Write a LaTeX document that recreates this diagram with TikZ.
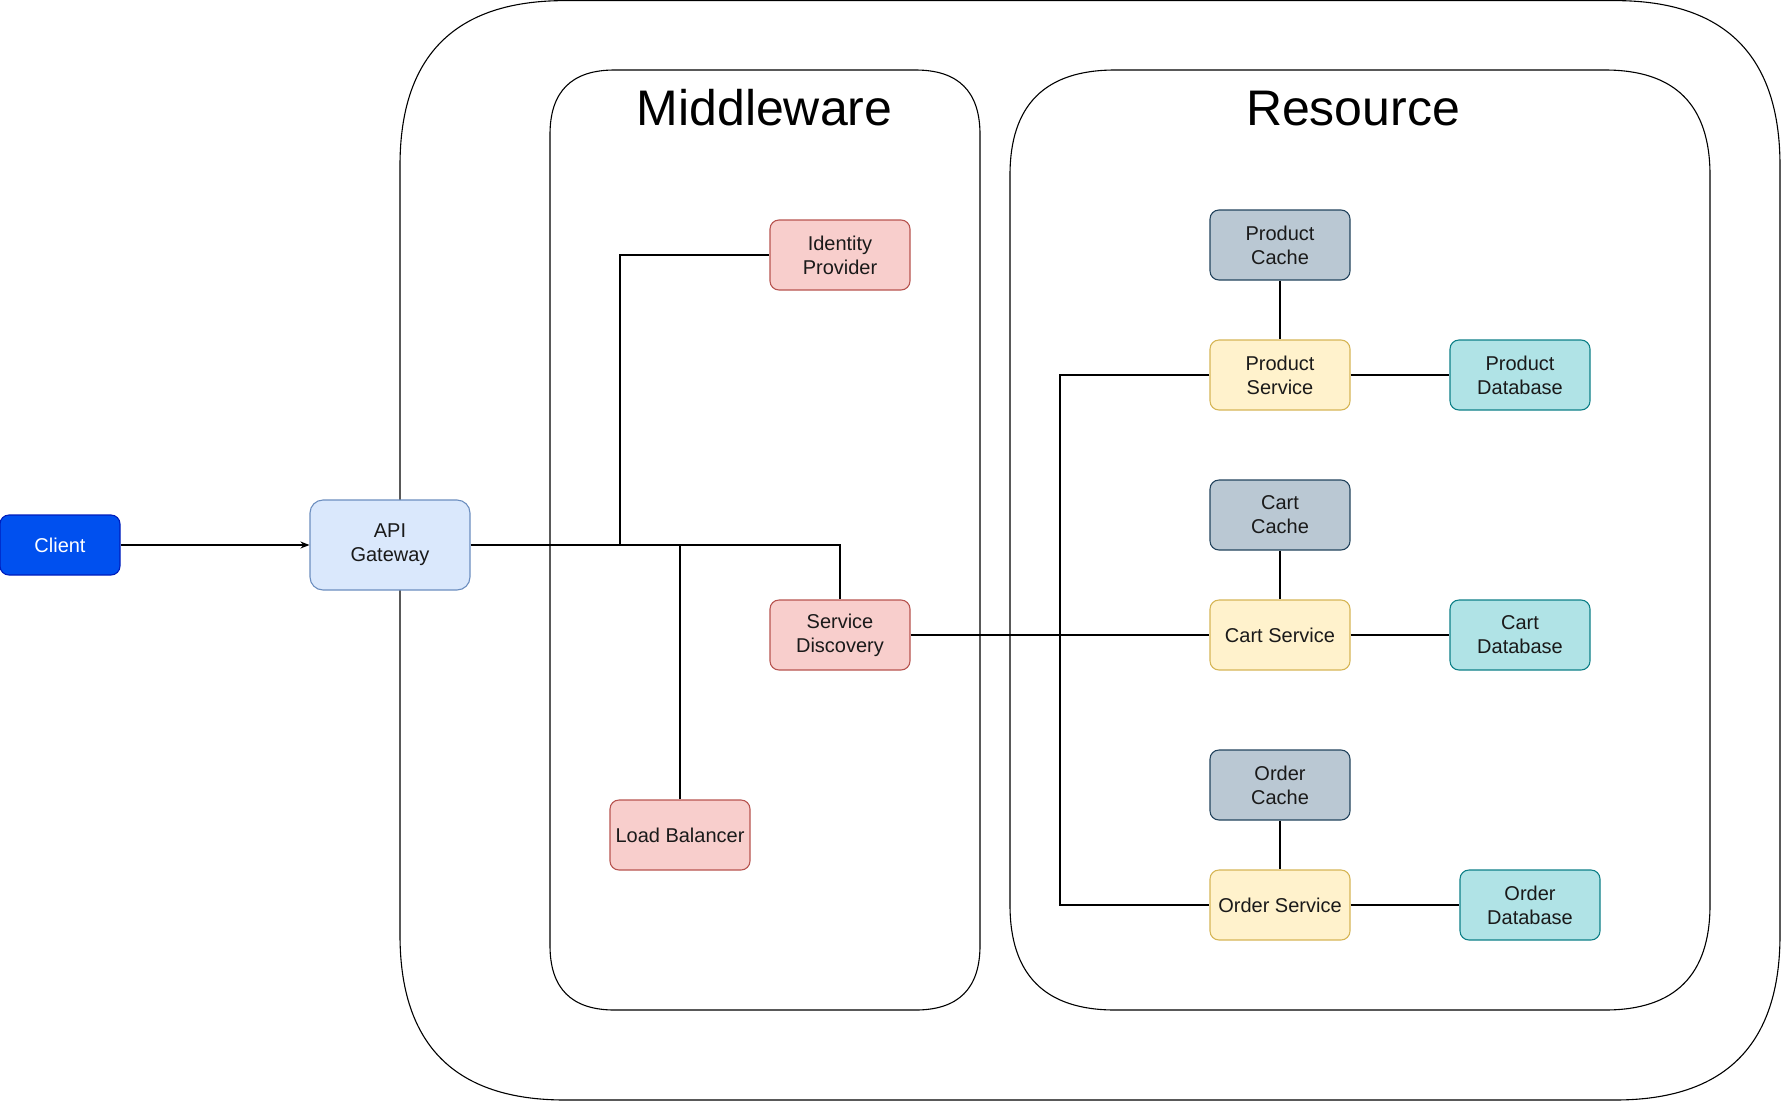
\documentclass[tikz,border=0pt]{standalone}
\usepackage{fontspec}
\setmainfont{Liberation Sans}
\usetikzlibrary{arrows.meta}
\definecolor{clientfill}{HTML}{0050EF}
\definecolor{clientdraw}{HTML}{001DBC}
\definecolor{apifill}{HTML}{DAE8FC}
\definecolor{apidraw}{HTML}{6C8EBF}
\definecolor{redfill}{HTML}{F8CECC}
\definecolor{reddraw}{HTML}{B85450}
\definecolor{cachefill}{HTML}{BAC8D3}
\definecolor{cachedraw}{HTML}{23445D}
\definecolor{svcfill}{HTML}{FFF2CC}
\definecolor{svcdraw}{HTML}{D6B656}
\definecolor{dbfill}{HTML}{B0E3E6}
\definecolor{dbdraw}{HTML}{0E8088}
\definecolor{txt}{HTML}{1A1A1A}
\newcommand{\qrect}[5]{%
\draw[container] (#1+#5,#2) -- (#3-#5,#2) .. controls (#3-#5/3,#2) and (#3,#2+#5/3) .. (#3,#2+#5) -- (#3,#4-#5) .. controls (#3,#4-#5/3) and (#3-#5/3,#4) .. (#3-#5,#4) -- (#1+#5,#4) .. controls (#1+#5/3,#4) and (#1,#4-#5/3) .. (#1,#4-#5) -- (#1,#2+#5) .. controls (#1,#2+#5/3) and (#1+#5/3,#2) .. cycle;}
\tikzset{
  container/.style={draw=black, line width=1.1pt},
  box/.style={rounded corners=9pt, minimum width=140pt, minimum height=70pt, align=center, inner sep=0pt, line width=1.1pt, text=txt, font=\fontsize{20}{24}\selectfont},
  redbox/.style={box, fill=redfill, draw=reddraw},
  cachebox/.style={box, fill=cachefill, draw=cachedraw},
  svcbox/.style={box, fill=svcfill, draw=svcdraw},
  dbbox/.style={box, fill=dbfill, draw=dbdraw},
  conn/.style={draw=black, line width=1.3pt},
  title/.style={font=\fontsize{50}{56}\selectfont, text=black, inner sep=0pt, anchor=base}
}
\begin{document}
\begin{tikzpicture}[x=1pt,y=-1pt]
\useasboundingbox (0,0) rectangle (1781,1101);
% containers
\qrect{400}{0.6}{1780}{1100}{165}
\qrect{550}{70}{980}{1010}{64.5}
\qrect{1010}{70}{1710}{1010}{105}
\node[title] (tmid) at (764.5,125) {Middleware};
\node[title] (tres) at (1353,125) {Resource};
% nodes
\node[box, fill=clientfill, draw=clientdraw, text=white, minimum width=120pt, minimum height=60pt] (client) at (60,545) {Client};
\node[box, fill=apifill, draw=apidraw, minimum width=160pt, minimum height=90pt, rounded corners=13pt] (api) at (390,545) {API\\Gateway};
\node[redbox] (idp) at (840,255) {Identity\\Provider};
\node[redbox] (sd) at (840,635) {Service\\Discovery};
\node[redbox] (lb) at (680,835) {Load Balancer};
\node[cachebox] (pc) at (1280,245) {Product\\Cache};
\node[svcbox] (ps) at (1280,375) {Product\\Service};
\node[dbbox] (pdb) at (1520,375) {Product\\Database};
\node[cachebox] (cc) at (1280,515) {Cart\\Cache};
\node[svcbox] (cs) at (1280,635) {Cart Service};
\node[dbbox] (cdb) at (1520,635) {Cart\\Database};
\node[cachebox] (oc) at (1280,785) {Order\\Cache};
\node[svcbox] (os) at (1280,905) {Order Service};
\node[dbbox] (odb) at (1530,905) {Order\\Database};
% junctions
\coordinate (j1) at (620,545);
\coordinate (j3) at (1060,375);
% connectors
\draw[conn, -{Stealth[length=9pt,width=7pt]}] (client) -- (api);
\draw[conn] (api.east) -| (sd.north);
\draw[conn] (j1) |- (idp.west);
\draw[conn] (lb.north) -- (lb.north |- api.east);
\draw[conn] (sd.east) -- (cs.west);
\draw[conn] (ps.west) -- (j3) |- (os.west);
\draw[conn] (pc) -- (ps);
\draw[conn] (cc) -- (cs);
\draw[conn] (oc) -- (os);
\draw[conn] (ps) -- (pdb);
\draw[conn] (cs) -- (cdb);
\draw[conn] (os) -- (odb);
\end{tikzpicture}
\end{document}
